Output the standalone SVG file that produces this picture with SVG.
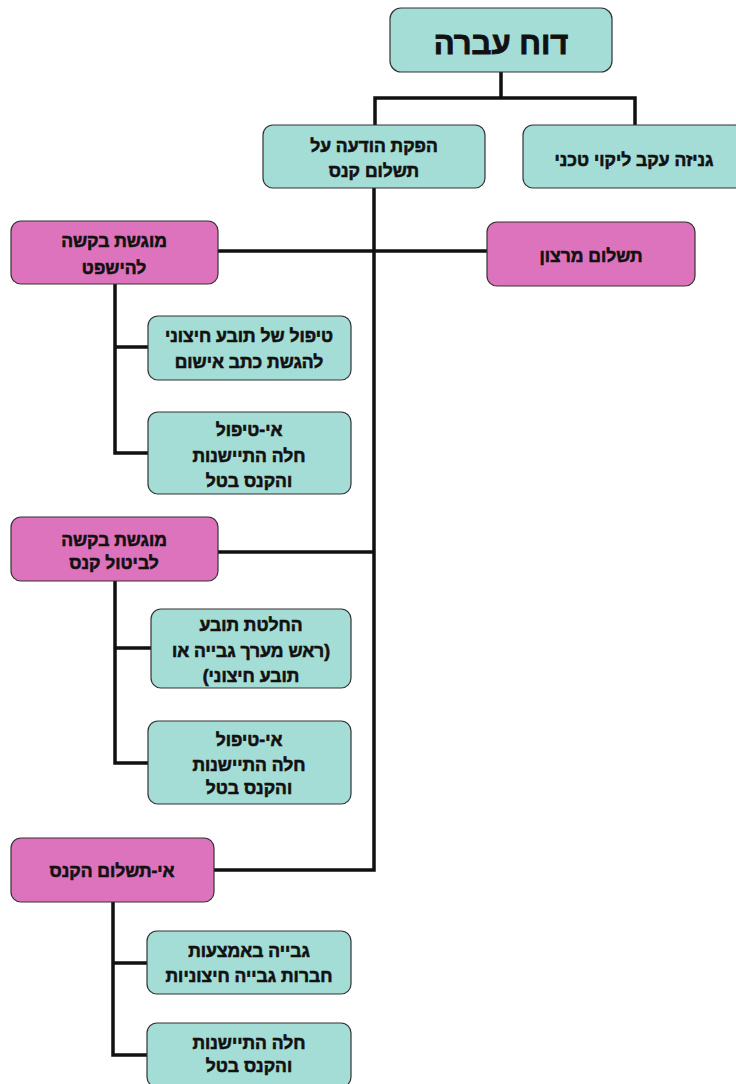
<svg xmlns="http://www.w3.org/2000/svg" width="736" height="1084" viewBox="0 0 736 1084">
<style>
.box{stroke:#333;stroke-width:1.2}
.teal{fill:#A4DCD6}
.pink{fill:#DE73BD}
.t{font-family:"Liberation Sans","DejaVu Sans",sans-serif;font-weight:bold;font-size:17.5px;fill:#111;stroke:#111;stroke-width:0.6;text-anchor:middle;direction:rtl}
.big{font-size:31px;stroke-width:0.9}
.c{fill:none;stroke:#111;stroke-width:3.5}
</style>
<rect width="736" height="1084" fill="#fff"/>
<g id="connectors">
<path class="c" d="M501,72 V98 M375,125 V98 H635 V125"/>
<path class="c" d="M374,188 V870 H214"/>
<path class="c" d="M218,251 H487"/>
<path class="c" d="M218,552 H374"/>
<path class="c" d="M115,284 V453 H148 M115,347 H148"/>
<path class="c" d="M115,581 V763 H148 M115,648 H151"/>
<path class="c" d="M113,902 V1055 H147 M113,963 H147"/>
</g>
<g id="root">
<rect class="box teal" x="390" y="8" width="222" height="64" rx="11"/>
<text class="t big" x="501" y="54">דוח עברה</text>
</g>
<g id="notice">
<rect class="box teal" x="263" y="125" width="222" height="63" rx="10"/>
<text class="t" x="374" y="152">הפקת הודעה על</text>
<text class="t" x="374" y="177">תשלום קנס</text>
</g>
<g id="archive">
<rect class="box teal" x="523" y="125" width="222" height="63" rx="10"/>
<text class="t" x="634" y="166">גניזה עקב ליקוי טכני</text>
</g>
<g id="trial">
<rect class="box pink" x="11" y="221" width="207" height="63" rx="10"/>
<text class="t" x="114" y="247">מוגשת בקשה</text>
<text class="t" x="114" y="274">להישפט</text>
</g>
<g id="voluntary">
<rect class="box pink" x="487" y="222" width="208" height="64" rx="10"/>
<text class="t" x="591" y="262">תשלום מרצון</text>
</g>
<g id="prosecutor">
<rect class="box teal" x="148" y="316" width="203" height="64" rx="10"/>
<text class="t" x="249" y="342">טיפול של תובע חיצוני</text>
<text class="t" x="249" y="368">להגשת כתב אישום</text>
</g>
<g id="nohandle1">
<rect class="box teal" x="148" y="412" width="203" height="82" rx="10"/>
<text class="t" x="249" y="436">אי-טיפול</text>
<text class="t" x="249" y="462">חלה התיישנות</text>
<text class="t" x="249" y="487">והקנס בטל</text>
</g>
<g id="cancel">
<rect class="box pink" x="11" y="517" width="207" height="64" rx="10"/>
<text class="t" x="114" y="546">מוגשת בקשה</text>
<text class="t" x="114" y="569">לביטול קנס</text>
</g>
<g id="decision">
<rect class="box teal" x="151" y="609" width="200" height="79" rx="10"/>
<text class="t" x="251" y="631">החלטת תובע</text>
<text class="t" x="251" y="657">(ראש מערך גבייה או</text>
<text class="t" x="251" y="682">תובע חיצוני)</text>
</g>
<g id="nohandle2">
<rect class="box teal" x="148" y="721" width="203" height="83" rx="10"/>
<text class="t" x="249" y="746">אי-טיפול</text>
<text class="t" x="249" y="771">חלה התיישנות</text>
<text class="t" x="249" y="794">והקנס בטל</text>
</g>
<g id="nopay">
<rect class="box pink" x="11" y="838" width="203" height="64" rx="10"/>
<text class="t" x="112" y="877">אי-תשלום הקנס</text>
</g>
<g id="collection">
<rect class="box teal" x="147" y="931" width="204" height="63" rx="10"/>
<text class="t" x="249" y="957">גבייה באמצעות</text>
<text class="t" x="249" y="982">חברות גבייה חיצוניות</text>
</g>
<g id="expired">
<rect class="box teal" x="147" y="1023" width="204" height="64" rx="10"/>
<text class="t" x="249" y="1049">חלה התיישנות</text>
<text class="t" x="249" y="1072">והקנס בטל</text>
</g>
</svg>
